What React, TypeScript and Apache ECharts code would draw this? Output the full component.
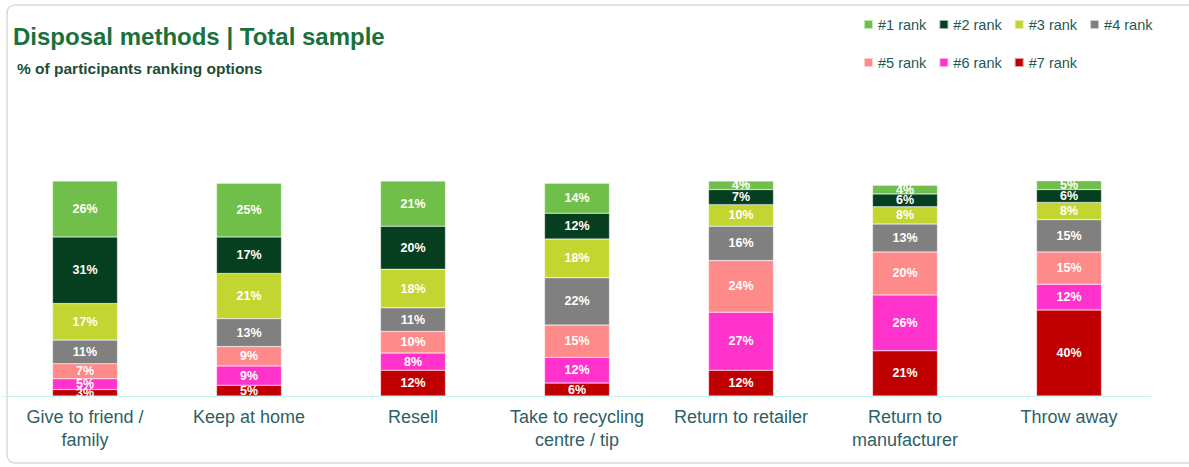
import React, { useEffect, useRef } from "react";
import * as echarts from "echarts";

const categories = [
  "Give to friend /\nfamily",
  "Keep at home",
  "Resell",
  "Take to recycling\ncentre / tip",
  "Return to retailer",
  "Return to\nmanufacturer",
  "Throw away",
];

const rankNames = ["#1 rank", "#2 rank", "#3 rank", "#4 rank", "#5 rank", "#6 rank", "#7 rank"];

const rank1 = [26, 25, 21, 14, 4, 4, 5];
const rank2 = [31, 17, 20, 12, 7, 6, 6];
const rank3 = [17, 21, 18, 18, 10, 8, 8];
const rank4 = [11, 13, 11, 22, 16, 13, 15];
const rank5 = [7, 9, 10, 15, 24, 20, 15];
const rank6 = [5, 9, 8, 12, 27, 26, 12];
const rank7 = [3, 5, 12, 6, 12, 21, 40];

const rankValues = [rank1, rank2, rank3, rank4, rank5, rank6, rank7];
const rankColors = ["#70bf4a", "#063f1f", "#c3d530", "#808080", "#ff8a8a", "#ff33cc", "#c00000"];

export default function App() {
  const ref = useRef<HTMLDivElement>(null);
  useEffect(() => {
    if (!ref.current) return;
    const chart = echarts.init(ref.current, undefined, { renderer: "svg" });
    const series = [6, 5, 4, 3, 2, 1, 0].map((i) => ({
      name: rankNames[i],
      type: "bar",
      stack: "total",
      barWidth: 65,
      data: rankValues[i],
      itemStyle: { color: rankColors[i], borderColor: "rgba(255,255,255,0.6)", borderWidth: 0.5 },
      label: {
        show: true,
        position: "inside",
        formatter: "{c}%",
        color: "#ffffff",
        fontWeight: "bold",
        fontSize: 12.5,
        fontFamily: "Liberation Sans, Arial, sans-serif",
      },
    }));
    const legendBase = {
      orient: "horizontal",
      icon: "rect",
      itemWidth: 9,
      itemHeight: 9,
      itemGap: 12,
      textStyle: { color: "#1f5a55", fontSize: 14.5, fontFamily: "Liberation Sans, Arial, sans-serif" },
      left: 858,
    };
    chart.setOption({
      animation: false,
      title: [
        {
          text: "Disposal methods | Total sample",
          left: 8,
          top: 19,
          textStyle: { color: "#19713b", fontSize: 24, fontWeight: "bold", fontFamily: "Liberation Sans, Arial, sans-serif" },
        },
        {
          text: "% of participants ranking options",
          left: 12,
          top: 55,
          textStyle: { color: "#1d4d3a", fontSize: 15.5, fontWeight: "bold", fontFamily: "Liberation Sans, Arial, sans-serif" },
        },
      ],
      legend: [
        { ...legendBase, top: 12, data: rankNames.slice(0, 4) },
        { ...legendBase, top: 50, data: rankNames.slice(4) },
      ],
      graphic: [
        {
          type: "rect",
          shape: { x: 7, y: 5, width: 1200, height: 458, r: 8 },
          style: { fill: "none", stroke: "#d9d9d9", lineWidth: 1.5 },
          silent: true,
          z: -10,
        },
      ],
      grid: { left: 3, right: 38, top: 181, bottom: 71, containLabel: false },
      xAxis: {
        type: "category",
        data: categories,
        axisLine: { lineStyle: { color: "#c6f3ee", width: 1 } },
        axisTick: { show: false },
        axisLabel: {
          color: "#2f5f66",
          fontSize: 18,
          lineHeight: 23,
          margin: 9,
          interval: 0,
          fontFamily: "Liberation Sans, Arial, sans-serif",
        },
      },
      yAxis: { type: "value", min: 0, max: 100, show: false, splitLine: { show: false } },
      series,
    });
    return () => chart.dispose();
  }, []);
  return (
    <div
      ref={ref}
      style={{ position: "fixed", left: 0, top: 0, width: 1189, height: 467, background: "#ffffff" }}
    />
  );
}
